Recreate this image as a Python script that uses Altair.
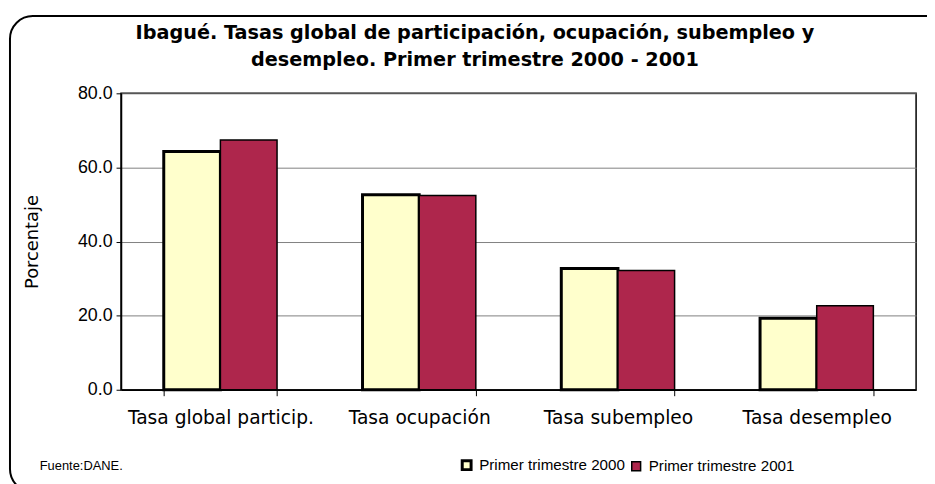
import altair as alt
import pandas as pd

categories = ["Tasa global particip.", "Tasa ocupación", "Tasa subempleo", "Tasa desempleo"]
series_names = ["Primer trimestre 2000", "Primer trimestre 2001"]
s2000 = [64.3, 52.6, 32.7, 19.3]
s2001 = [67.4, 52.4, 32.2, 22.7]
y_ticks = [0, 20, 40, 60, 80]
title_lines = ["Ibagué. Tasas global de participación, ocupación, subempleo y",
               "desempleo. Primer trimestre 2000 - 2001"]
source_note = "Fuente:DANE."

rows = []
for c, a, b in zip(categories, s2000, s2001):
    rows.append({"cat": c, "serie": series_names[0], "val": a})
    rows.append({"cat": c, "serie": series_names[1], "val": b})
df = pd.DataFrame(rows)

FONT = "Liberation Sans"
WIDE = "DejaVu Sans"

bars = alt.Chart(df).mark_bar(stroke="black").encode(
    x=alt.X("cat:N", sort=categories,
            scale=alt.Scale(paddingInner=0.43, paddingOuter=0.215),
            axis=alt.Axis(title=None, labelAngle=0, tickBand="extent", tickSize=6,
                          tickColor="black", domainColor="black", domainWidth=1.5,
                          labelFont=WIDE, labelFontSize=18.8, labelPadding=13,
                          labelColor="black", labelLimit=400, labelOverlap=False)),
    xOffset=alt.XOffset("serie:N", sort=series_names, scale=alt.Scale(paddingInner=0, paddingOuter=0)),
    y=alt.Y("val:Q", scale=alt.Scale(domain=[0, 80], nice=False),
            axis=alt.Axis(title="Porcentaje", values=y_ticks, format=".1f", grid=True,
                          gridColor="#808080", gridWidth=1, tickColor="black", tickSize=5,
                          domainColor="black", domainWidth=1.5, labelFontSize=18,
                          labelPadding=4, labelColor="black", titleFont=WIDE, titleFontSize=18,
                          titleFontWeight="normal", titleColor="black", titlePadding=36)),
    color=alt.Color("serie:N", sort=series_names,
                    scale=alt.Scale(domain=series_names, range=["#FFFFCC", "#AE264C"]),
                    legend=alt.Legend(title=None, orient="none", legendX=341, legendY=367,
                                      direction="horizontal", labelFontSize=15.3,
                                      labelColor="black", symbolType="square",
                                      symbolSize=80, symbolStrokeColor="black",
                                      symbolStrokeWidth=2, labelOffset=5,
                                      columnPadding=3, labelLimit=400)),
    strokeWidth=alt.StrokeWidth("serie:N", scale=alt.Scale(domain=series_names, range=[3, 1.5]),
                                legend=None),
)

title = alt.Chart(pd.DataFrame({"a": [0]})).mark_text(
    align="center", baseline="top", fontSize=19.4, fontWeight="bold", font=WIDE,
    color="black", lineHeight=27
).encode(x=alt.value(357), y=alt.value(-70), text=alt.value(title_lines))

note = alt.Chart(pd.DataFrame({"t": [source_note]})).mark_text(
    align="left", baseline="middle", fontSize=13, color="black", font=FONT
).encode(x=alt.value(-82), y=alt.value(376), text="t:N")

frame = alt.Chart(pd.DataFrame({"a": [0]})).mark_rect(
    cornerRadius=23, fillOpacity=0, stroke="black", strokeWidth=2, clip=False
).encode(x=alt.value(-112), x2=alt.value(835), y=alt.value(-78), y2=alt.value(402))

chart = alt.layer(frame, bars, title, note).properties(
    width=802, height=299,
    padding={"left": 114, "top": 84, "right": 11, "bottom": 93},
    autosize=alt.AutoSizeParams(type="none"),
).configure(font=FONT).configure_view(stroke="black", strokeWidth=1.5)

chart.save("out.html", embed_options={"renderer": "svg", "actions": False})
